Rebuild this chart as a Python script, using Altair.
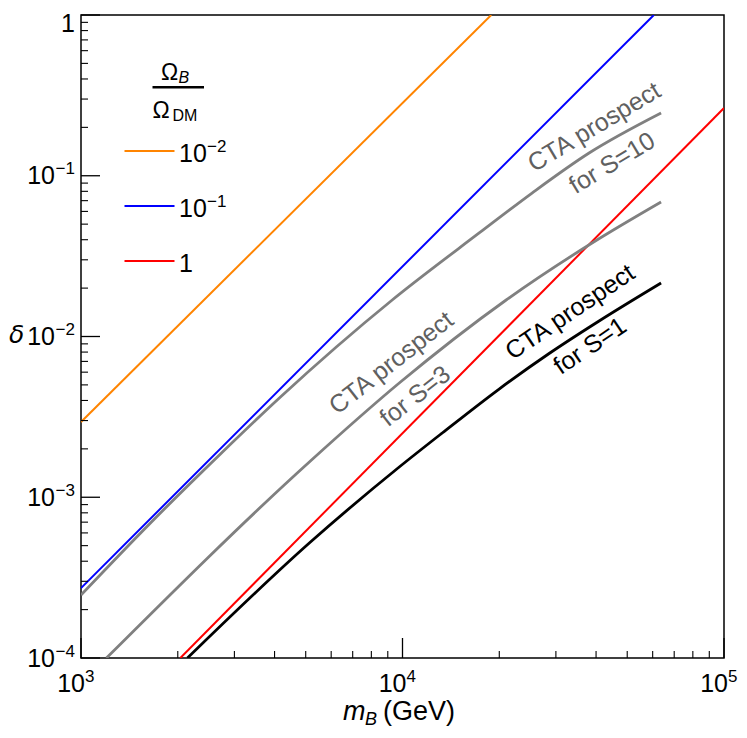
import altair as alt
import pandas as pd

W, H = 643, 643
FONT = "Liberation Sans"

# ---------------- data ----------------
# straight relic-abundance lines (log-log, end points)
orange_m = [1000, 18880]
orange_d = [2.94e-3, 1.0]
blue_m = [1000, 60500]
blue_d = [2.72e-4, 1.0]
red_m = [2037, 100000]
red_d = [1.0e-4, 0.264]

# CTA prospect curves
s10_m = [1000, 1633, 2695, 4140, 9290, 17320, 25290, 38050, 63720]
s10_d = [2.465e-4, 6.82e-4, 1.832e-3, 4.145e-3, 0.01687, 0.04405, 0.0781, 0.1385, 0.2457]
s3_m = [1200, 5131, 9770, 21010, 38870, 63720]
s3_d = [1.0e-4, 1.657e-3, 5.135e-3, 0.01687, 0.03817, 0.0687]
s1_m = [2143, 5131, 9770, 13290, 19980, 28580, 40880, 63720]
s1_d = [1.0e-4, 5.19e-4, 1.542e-3, 2.51e-3, 4.714e-3, 7.837e-3, 0.01249, 0.02152]

# curve annotations
lab_text = ["CTA prospect", "for S=10", "CTA prospect", "for S=3", "CTA prospect", "for S=1"]
lab_group = ["S10", "S10", "S3", "S3", "S1", "S1"]
lab_m = [39450, 44870, 9228, 10955, 33220, 38320]
lab_d = [0.2010, 0.1200, 6.84e-3, 4.26e-3, 0.01420, 8.73e-3]

# legend
leg_series = ["1e-2", "1e-1", "1"]
leg_base = ["10", "10", "1"]
leg_exp = ["\u22122", "\u22121", ""]
leg_colors = ["#ff8400", "#0000ff", "#ff0000"]

# axis ticks / labels
x_major = [1e3, 1e4, 1e5]
x_minor = [2e3, 3e3, 4e3, 5e3, 6e3, 7e3, 8e3, 9e3,
           2e4, 3e4, 4e4, 5e4, 6e4, 7e4, 8e4, 9e4]
x_exp = ["3", "4", "5"]
y_major = [1e-4, 1e-3, 1e-2, 1e-1, 1.0]
y_minor = [2e-4, 3e-4, 4e-4, 5e-4, 6e-4, 7e-4, 8e-4, 9e-4,
           2e-3, 3e-3, 4e-3, 5e-3, 6e-3, 7e-3, 8e-3, 9e-3,
           2e-2, 3e-2, 4e-2, 5e-2, 6e-2, 7e-2, 8e-2, 9e-2,
           0.2, 0.3, 0.4, 0.5, 0.6, 0.7, 0.8, 0.9]
y_lab_pos = [1e-4, 1e-3, 1e-2, 1e-1]
y_exp = ["\u22124", "\u22123", "\u22122", "\u22121"]

BASE, EXP = 25, 17

# ---------------- scales ----------------
xs = alt.Scale(type="log", domain=[1e3, 1e5], nice=False)
ys = alt.Scale(type="log", domain=[1e-4, 1], nice=False)
X = lambda f="m": alt.X(f"{f}:Q", scale=xs, axis=None)
Y = lambda f="d": alt.Y(f"{f}:Q", scale=ys, axis=None)

def series_df(name, m, d):
    return pd.DataFrame({"series": name, "m": m, "d": d})

thin = pd.concat([series_df("1e-2", orange_m, orange_d),
                  series_df("1e-1", blue_m, blue_d),
                  series_df("1", red_m, red_d)])
thick = pd.concat([series_df("S10", s10_m, s10_d),
                   series_df("S3", s3_m, s3_d),
                   series_df("S1", s1_m, s1_d)])

thin_lines = alt.Chart(thin).mark_line(strokeWidth=2.0, clip=True).encode(
    x=X(), y=Y(),
    color=alt.Color("series:N", scale=alt.Scale(domain=leg_series, range=leg_colors), legend=None),
    detail="series:N",
)
thick_lines = alt.Chart(thick).mark_line(strokeWidth=2.8, clip=True, interpolate="monotone").encode(
    x=X(), y=Y(),
    stroke=alt.Stroke("series:N", scale=alt.Scale(domain=["S10", "S3", "S1"],
                                                  range=["#808080", "#808080", "#000000"]), legend=None),
    detail="series:N",
)

labs = pd.DataFrame({"t": lab_text, "g": lab_group, "m": lab_m, "d": lab_d})
lab_layers = []
for g, ang, col in [("S10", 329, "#606060"), ("S3", 322, "#606060"), ("S1", 326, "#000000")]:
    lab_layers.append(
        alt.Chart(labs).transform_filter(alt.datum.g == g).mark_text(
            font=FONT, fontSize=25, angle=ang, color=col, align="center", baseline="middle"
        ).encode(x=X(), y=Y(), text="t:N")
    )

# ---------------- ticks (inward) ----------------
xt_major = alt.Chart(pd.DataFrame({"m": x_major})).mark_rule(color="black", strokeWidth=1.3).encode(
    x=X(), y=alt.value(H), y2=alt.value(H - 20))
xt_minor = alt.Chart(pd.DataFrame({"m": x_minor})).mark_rule(color="black", strokeWidth=1.1).encode(
    x=X(), y=alt.value(H), y2=alt.value(H - 7))
yt_major = alt.Chart(pd.DataFrame({"d": y_major})).mark_rule(color="black", strokeWidth=1.3).encode(
    y=Y(), x=alt.value(0), x2=alt.value(19))
yt_minor = alt.Chart(pd.DataFrame({"d": y_minor})).mark_rule(color="black", strokeWidth=1.1).encode(
    y=Y(), x=alt.value(0), x2=alt.value(7))

# ---------------- tick labels ----------------
xl = pd.DataFrame({"m": x_major, "base": ["10"] * 3, "exp": x_exp})
xl_base = alt.Chart(xl).mark_text(font=FONT, fontSize=BASE, align="right", baseline="alphabetic", dx=4).encode(
    x=X(), y=alt.value(677), text="base:N")
xl_exp = alt.Chart(xl).mark_text(font=FONT, fontSize=EXP, align="left", baseline="alphabetic", dx=4).encode(
    x=X(), y=alt.value(667), text="exp:N")

yl = pd.DataFrame({"d": y_lab_pos, "base": ["10"] * 4, "exp": y_exp})
yl_base = alt.Chart(yl).mark_text(font=FONT, fontSize=BASE, align="right", baseline="alphabetic", dx=-26, dy=8.5).encode(
    y=Y(), x=alt.value(0), text="base:N")
yl_exp = alt.Chart(yl).mark_text(font=FONT, fontSize=EXP, align="right", baseline="alphabetic", dx=-6, dy=-1.5).encode(
    y=Y(), x=alt.value(0), text="exp:N")
yl_one = alt.Chart(pd.DataFrame({"d": [1.0], "t": ["1"]})).mark_text(
    font=FONT, fontSize=BASE, align="right", baseline="alphabetic", dx=-6, dy=17).encode(
    y=Y(), x=alt.value(0), text="t:N")

# ---------------- titles ----------------
one = pd.DataFrame({"a": [0]})
def txt(s, x, y, size=BASE, style="normal", align="left", baseline="alphabetic", color="black", font=FONT):
    return alt.Chart(one).mark_text(font=font, fontSize=size, fontStyle=style, align=align,
                                    baseline=baseline, color=color).encode(
        x=alt.value(x), y=alt.value(y), text=alt.value(s))

x_title = [txt("m", 262, 705, 27, "italic"), txt("B", 284, 710, 18, "italic"), txt("(GeV)", 302, 705, 27)]
y_title = [txt("\u03b4", -72, 320, 25, "italic", align="left", baseline="middle", font="DejaVu Sans")]

# ---------------- legend ----------------
leg = [txt("\u03a9", 80, 65, 23), txt("B", 97.5, 68, 16, "italic"),
       alt.Chart(one).mark_rule(color="black", strokeWidth=2.4).encode(
           x=alt.value(71.5), x2=alt.value(123), y=alt.value(72.3)),
       txt("\u03a9", 71.5, 103.3, 23), txt("DM", 91.5, 106, 16)]
leg_y = [136, 191, 246]
for i in range(3):
    leg.append(alt.Chart(one).mark_rule(color=leg_colors[i], strokeWidth=2.0).encode(
        x=alt.value(43.5), x2=alt.value(93.5), y=alt.value(leg_y[i])))
    leg.append(txt(leg_base[i], 98, leg_y[i] + 11, BASE))
    if leg_exp[i]:
        leg.append(txt(leg_exp[i], 126, leg_y[i] + 1, EXP))

chart = alt.layer(
    thin_lines, thick_lines, *lab_layers,
    xt_major, xt_minor, yt_major, yt_minor,
    xl_base, xl_exp, yl_base, yl_exp, yl_one,
    *x_title, *y_title, *leg,
).properties(
    width=W, height=H, autosize=alt.AutoSizeParams(type="none"),
    padding={"left": 73, "top": 7, "right": 15, "bottom": 72},
).configure_view(stroke="black", strokeWidth=1.5)

chart.save("out.html", embed_options={"renderer": "svg", "actions": False})
